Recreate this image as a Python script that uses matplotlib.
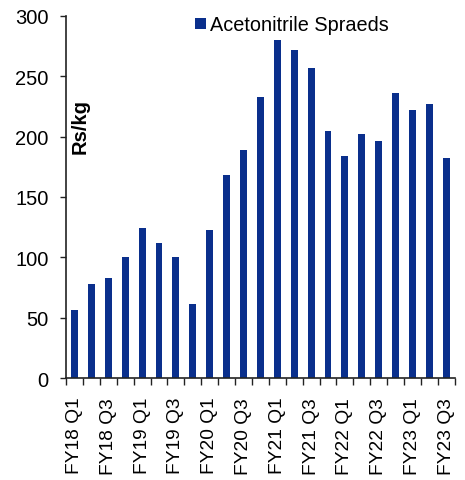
import matplotlib.pyplot as plt
import numpy as np

plt.rcParams['font.family'] = ['Liberation Sans', 'DejaVu Sans']

quarters = [f"FY{y} Q{q}" for y in range(18, 24) for q in range(1, 5)][:23]
spreads = [56, 78, 83, 100, 124, 112, 100, 61, 123, 168, 189, 233,
           280, 272, 257, 205, 184, 202, 196, 236, 222, 227, 182]

bar_color = '#0A2F8C'

fig = plt.figure(figsize=(4.65, 4.81), dpi=100)
ax = fig.add_axes([0.142, 0.212, 0.836, 0.753])

x = np.arange(len(spreads))
ax.bar(x, spreads, width=0.41, color=bar_color, label="Acetonitrile Spraeds")

ax.set_xlim(-0.5, len(spreads) - 0.5)
ax.set_ylim(0, 300)
ax.set_yticks(range(0, 301, 50))
ax.tick_params(axis='y', labelsize=14.5, length=4, width=1, pad=8.5,
               direction='out', color='#222222')

# labels on every other bar, tick marks on bar boundaries
ax.set_xticks(x[::2])
ax.set_xticklabels(quarters[::2], rotation=90, fontsize=13.8)
ax.tick_params(axis='x', which='major', length=0, pad=13.5)
ax.set_xticks(np.arange(-0.5, len(spreads)), minor=True)
ax.tick_params(axis='x', which='minor', length=5, width=1, direction='out',
               color='#222222')

for side in ['top', 'right']:
    ax.spines[side].set_visible(False)
for side in ['left', 'bottom']:
    ax.spines[side].set_linewidth(1.2)
    ax.spines[side].set_color('#222222')

ax.text(0.036, 0.696, "Rs/kg", transform=ax.transAxes, rotation=90,
        fontsize=14.5, fontweight='bold', ha='center', va='center')

ax.legend(loc='center left', bbox_to_anchor=(0.333, 0.975), frameon=False,
          fontsize=14.3, handlelength=0.55, handleheight=0.47, handletextpad=0.2,
          borderpad=0, borderaxespad=0)

fig.savefig("out.png", dpi=100)
